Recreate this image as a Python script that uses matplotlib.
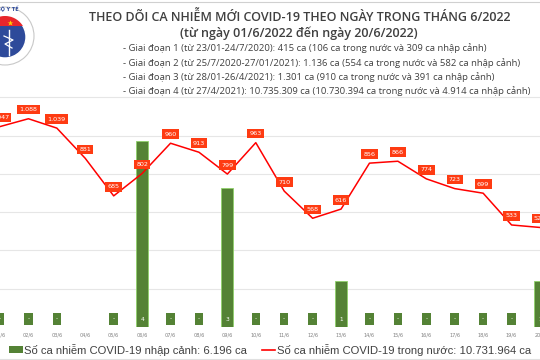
import numpy as np
import matplotlib
matplotlib.use("Agg")
from matplotlib import pyplot as plt
from matplotlib.patches import Circle, Rectangle, Polygon

days = list(range(1, 21))
day_labels = [f"{d:02d}/6" for d in days]

# ca trong nuoc theo ngay
domestic = [1047, 1088, 1039, 881, 685, 802, 960, 913, 799, 963,
            710, 568, 616, 856, 866, 774, 723, 699, 533, 520]
# ca nhap canh theo ngay (None = khong co nhan)
imported = [0, 0, 0, None, 0, 4, 0, 0, 3, 0,
            0, 0, 1, 0, 0, 0, 0, 0, 0, 1]

title_1 = "THEO DÕI CA NHIỄM MỚI COVID-19 THEO NGÀY TRONG THÁNG 6/2022"
title_2 = "(từ ngày 01/6/2022 đến ngày 20/6/2022)"
phases = [
    "- Giai đoạn 1 (từ 23/01-24/7/2020): 415 ca (106 ca trong nước và 309 ca nhập cảnh)",
    "- Giai đoạn 2 (từ 25/7/2020-27/01/2021): 1.136 ca (554 ca trong nước và 582 ca nhập cảnh)",
    "- Giai đoạn 3 (từ 28/01-26/4/2021): 1.301 ca (910 ca trong nước và 391 ca nhập cảnh)",
    "- Giai đoạn 4 (từ 27/4/2021): 10.735.309 ca (10.730.394 ca trong nước và 4.914 ca nhập cảnh)",
]
legend_bar = "Số ca nhiễm COVID-19 nhập cảnh: 6.196 ca"
legend_line = "Số ca nhiễm COVID-19 trong nước: 10.731.964 ca"

GREEN = "#548235"
GREEN_EDGE = "#8fd16a"
RED = "#ff0000"
LABEL_RED = "#fe3b12"
TEXT = "#404040"


def fmt(v):
    return f"{v:,}".replace(",", ".")


fig = plt.figure(figsize=(5.4, 3.6), dpi=100)

# chart area, pixel rows 95..327
ax_bar = fig.add_axes([0, 33 / 360, 1, 232 / 360])
ax_line = ax_bar.twinx()

bar_vals = [v if v is not None else 0 for v in imported]
ax_bar.bar(days, bar_vals, width=0.42, color=GREEN, edgecolor=GREEN_EDGE,
           linewidth=0.6, zorder=2)
for d, v in zip(days, imported):
    if v is None:
        continue
    ax_bar.text(d, 0.17, "-" if v == 0 else str(v), ha="center", va="center",
                fontsize=4.2, color="white", zorder=3,
                bbox=dict(boxstyle="square,pad=0.55", fc=GREEN, ec="none"))
ax_bar.set_ylim(0, 5.0)
ax_bar.set_xlim(1.1, 19.85)
ax_bar.set_yticks([])
ax_bar.set_xticks(days)
ax_bar.set_xticklabels(day_labels, fontsize=3.6, color="#808080")
ax_bar.tick_params(axis="x", length=0, pad=4)
for s in ax_bar.spines.values():
    s.set_visible(False)
for g in range(200, 1201, 200):
    ax_bar.axhline(g / 1212 * 5.0, color="#e6e6e6", linewidth=0.8, zorder=0)

ax_line.plot(days, domestic, color=RED, linewidth=1.1, zorder=4)
for d, v in zip(days, domestic):
    ax_line.annotate(fmt(v), (d, v), xytext=(0, 6.5), textcoords="offset points",
                     ha="center", va="center", fontsize=4.6, color="white",
                     bbox=dict(boxstyle="square,pad=0.35", fc=LABEL_RED, ec="none"),
                     zorder=5, annotation_clip=False)
ax_line.set_ylim(0, 1212)
ax_line.set_yticks([])
for s in ax_line.spines.values():
    s.set_visible(False)
ax_bar.set_zorder(ax_line.get_zorder() - 1)
ax_bar.patch.set_visible(False)

# overlay in pixel coordinates for header, logo and legend
ov = fig.add_axes([0, 0, 1, 1], zorder=10)
ov.set_xlim(0, 540)
ov.set_ylim(360, 0)
ov.axis("off")
ov.patch.set_visible(False)

ov.plot([0, 540], [1.5, 1.5], color="#d0d0d0", linewidth=0.8)
ov.plot([0, 540], [358.5, 358.5], color="#e0e0e0", linewidth=0.8)

# logo
ov.add_patch(Circle((5, 36), 29, fc="white", ec="#c8c8c8", lw=0.8))
ov.add_patch(Circle((5, 37), 21, fc="#2e4a9a", ec="white", lw=1.0))
t = np.linspace(np.pi + 0.55, 2 * np.pi - 0.55, 40)
seg = np.column_stack([5 + 21 * np.cos(t), 37 + 21 * np.sin(t)])
ov.add_patch(Polygon(seg, closed=True, fc="#e8262b", ec="none"))
ov.plot([10], [23], marker="*", markersize=4, color="#ffd200", mec="none")
ov.plot([9, 9], [30, 55], color="white", linewidth=1.0)
ov.plot([4, 13, 5, 12], [36, 40, 44, 48], color="white", linewidth=0.9)
ov.text(8, 9, "BỘ Y TẾ", fontsize=3.5, color="#2e4a9a", ha="center", va="center",
        fontweight="bold")

ov.text(300, 17, title_1, fontsize=9.0, fontweight="semibold", color=TEXT,
        ha="center", va="center", family="Open Sans")
ov.text(299, 33, title_2, fontsize=9.0, fontweight="semibold", color=TEXT,
        ha="center", va="center", family="Open Sans")
for i, line in enumerate(phases):
    ov.text(123, 48.5 + i * 14.2, line, fontsize=6.8, color=TEXT, ha="left",
            va="center", family="Open Sans")

# legend
ov.add_patch(Rectangle((9, 346), 14, 7, fc=GREEN, ec="none"))
ov.text(24, 350, legend_bar, fontsize=8.1, color=TEXT, ha="left", va="center",
        family="Liberation Sans")
ov.plot([262, 275], [350, 350], color=RED, linewidth=1.2)
ov.text(277, 350, legend_line, fontsize=8.1, color=TEXT, ha="left", va="center",
        family="Liberation Sans")

fig.savefig("out.png", dpi=100, facecolor="white")
